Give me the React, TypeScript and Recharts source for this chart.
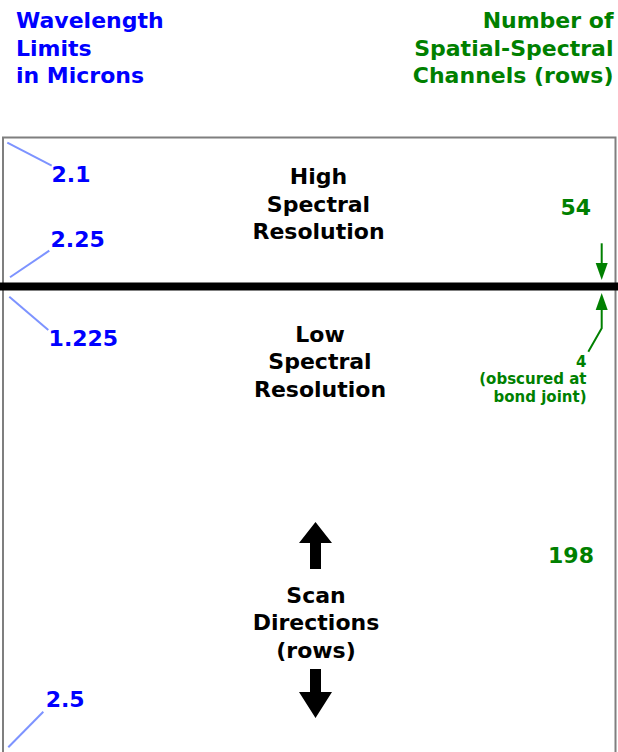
import React from "react";
import {
  ComposedChart,
  Line,
  ReferenceArea,
  ReferenceDot,
  ReferenceLine,
  XAxis,
  YAxis,
} from "recharts";

// detector layout: rows per band, joint between bands
const bandNames = [
  ["High", "Spectral", "Resolution"],
  ["Low", "Spectral", "Resolution"],
];
const bandRows = [54, 198];
const jointRows = 4;
const startMicrons = [2.1, 1.225];
const endMicrons = [2.25, 2.5];
const scanLabel = ["Scan", "Directions", "(rows)"];
const jointNote = ["(obscured at", "bond joint)"];
const leftTitle = ["Wavelength", "Limits", "in Microns"];
const rightTitle = ["Number of", "Spatial-Spectral", "Channels (rows)"];

const WIDTH = 618;
const HEIGHT = 760;
const BOX_TOP = 137.5;
const BOX_BOTTOM = 754;
const JOINT_Y = 286.5;

const FONT = '"DejaVu Sans", sans-serif';
const BLUE = "#0000ff";
const GREEN = "#008000";
const LEADER = "#7d93ff";
const BORDER = "#7f7f7f";

// the two bands are drawn at different row heights, so each gets its own axis
const plotH = BOX_BOTTOM - BOX_TOP;
const aboveJoint = (JOINT_Y - BOX_TOP) / plotH;
const highDomain = [0, (bandRows[0] + jointRows / 2) / aboveJoint];
const lowSpan = bandRows[1] + jointRows / 2;
const lowDomain = [
  -jointRows / 2 - (lowSpan * aboveJoint) / (1 - aboveJoint),
  bandRows[1],
];

// detector edges (left / right column)
const edges = [
  { col: 0, row: 0 },
  { col: 1, row: 0 },
];

type Axis = "high" | "low";

const textLines = (
  lines: string[],
  x: number,
  y: number,
  step: number,
  fill: string,
  size: number,
  anchor: "start" | "middle" | "end"
) =>
  lines.map((t, i) => (
    <text
      key={i}
      x={x}
      y={y + i * step}
      fill={fill}
      fontSize={size}
      fontWeight="bold"
      fontFamily={FONT}
      textAnchor={anchor}
    >
      {t}
    </text>
  ));

const mark = (
  key: string,
  axis: Axis,
  x: number,
  y: number,
  draw: (cx: number, cy: number) => React.ReactNode
) => (
  <ReferenceDot
    key={key}
    yAxisId={axis}
    x={x}
    y={y}
    r={0}
    ifOverflow="visible"
    shape={(p: any) => <g>{draw(p.cx, p.cy)}</g>}
  />
);

const leader = (
  key: string,
  axis: Axis,
  row: number,
  value: number,
  line: number[],
  text: number[]
) =>
  mark(key, axis, 0, row, (cx, cy) => (
    <g>
      <line
        x1={cx + line[0]}
        y1={cy + line[1]}
        x2={cx + line[2]}
        y2={cy + line[3]}
        stroke={LEADER}
        strokeWidth={2}
      />
      {textLines([String(value)], cx + text[0], cy + text[1], 0, BLUE, 22, "start")}
    </g>
  ));

const upArrow = (x: number, tip: number, base: number, end: number) => (
  <polygon
    points={`${x},${tip} ${x + 16.5},${base} ${x + 5.5},${base} ${x + 5.5},${end} ${x - 5.5},${end} ${x - 5.5},${base} ${x - 16.5},${base}`}
    fill="#000"
  />
);

export default function App() {
  return (
    <div
      style={{
        position: "absolute",
        left: 0,
        top: 0,
        width: WIDTH,
        height: 752,
        overflow: "hidden",
        background: "#fff",
      }}
    >
      <svg
        width={WIDTH}
        height={110}
        style={{ position: "absolute", left: 0, top: 0 }}
      >
        {textLines(leftTitle, 16, 28, 27.5, BLUE, 22, "start")}
        {textLines(rightTitle, 613.5, 28, 27.5, GREEN, 22, "end")}
      </svg>
      <div style={{ position: "absolute", left: 0, top: 0 }}>
        <ComposedChart
          width={WIDTH}
          height={HEIGHT}
          data={edges}
          margin={{ top: BOX_TOP, right: 2.5, bottom: HEIGHT - BOX_BOTTOM, left: 3 }}
        >
          <XAxis dataKey="col" type="number" domain={[0, 1]} hide allowDataOverflow />
          <YAxis
            yAxisId="high"
            type="number"
            domain={highDomain}
            reversed
            hide
            allowDataOverflow
          />
          <YAxis
            yAxisId="low"
            type="number"
            domain={lowDomain}
            reversed
            hide
            allowDataOverflow
          />

          {/* band outlines meet under the joint */}
          <ReferenceArea
            yAxisId="high"
            x1={0}
            x2={1}
            y1={0}
            y2={bandRows[0] + jointRows / 2}
            fill="#fff"
            fillOpacity={1}
            stroke={BORDER}
            strokeWidth={2}
          />
          <ReferenceArea
            yAxisId="low"
            x1={0}
            x2={1}
            y1={-jointRows / 2}
            y2={bandRows[1]}
            fill="#fff"
            fillOpacity={1}
            stroke={BORDER}
            strokeWidth={2}
          />
          <Line
            yAxisId="high"
            dataKey="row"
            stroke="none"
            dot={false}
            activeDot={false}
            isAnimationActive={false}
          />
          <ReferenceLine
            yAxisId="high"
            y={bandRows[0] + jointRows / 2}
            shape={(p: any) => (
              <line
                x1={p.x1 - 4}
                y1={p.y1}
                x2={p.x2 + 4}
                y2={p.y2}
                stroke="#000"
                strokeWidth={8}
              />
            )}
          />

          {leader("s0", "high", 0, startMicrons[0], [4.3, 5.2, 48.7, 28.2], [48.5, 44.2])}
          {leader("e0", "high", bandRows[0], endMicrons[0], [7, -3.9, 46.3, -30.5], [47.5, -33.9])}
          {leader("s1", "low", 0, startMicrons[1], [6.3, 5.5, 45.3, 38.8], [45.6, 54.8])}
          {leader("e1", "low", bandRows[1], endMicrons[1], [5.3, -6.7, 40.3, -42.3], [42.7, -47.3])}

          {mark("n0", "high", 0.5, bandRows[0] / 2, (cx, cy) =>
            textLines(bandNames[0], cx + 9.25, cy - 25, 27.5, "#000", 22, "middle")
          )}
          {mark("n1", "low", 0.5, 0, (cx, cy) =>
            textLines(bandNames[1], cx + 10.75, cy + 50.8, 27.5, "#000", 22, "middle")
          )}

          {mark("scan", "low", 0.5, bandRows[1] / 2, (cx, cy) => (
            <g>
              {upArrow(cx + 6.25, cy - 0.6, cy + 20.4, cy + 46.4)}
              {textLines(scanLabel, cx + 6.75, cy + 80.4, 27.5, "#000", 22, "middle")}
              {upArrow(cx + 6.25, cy + 195.4, cy + 169.4, cy + 146.4)}
            </g>
          ))}

          {mark("c0", "high", 1, bandRows[0] / 2, (cx, cy) =>
            textLines([String(bandRows[0])], cx - 39.8, cy + 5.7, 0, GREEN, 22, "middle")
          )}
          {mark("c1", "low", 1, bandRows[1] / 2, (cx, cy) =>
            textLines([String(bandRows[1])], cx - 44.5, cy + 40.7, 0, GREEN, 22, "middle")
          )}

          {mark("joint", "high", 1, bandRows[0] + jointRows / 2, (cx, cy) => {
            const ax = cx - 13.8;
            return (
              <g>
                <line x1={ax} y1={cy - 43.2} x2={ax} y2={cy - 20} stroke={GREEN} strokeWidth={2} />
                <polygon
                  points={`${ax - 6},${cy - 23.5} ${ax + 6},${cy - 23.5} ${ax},${cy - 6.5}`}
                  fill={GREEN}
                />
                <polygon
                  points={`${ax - 6},${cy + 23.5} ${ax + 6},${cy + 23.5} ${ax},${cy + 6.5}`}
                  fill={GREEN}
                />
                <polyline
                  points={`${ax},${cy + 20} ${ax},${cy + 41.8} ${cx - 27.2},${cy + 65.2}`}
                  fill="none"
                  stroke={GREEN}
                  strokeWidth={2}
                />
                {textLines(
                  [String(jointRows), ...jointNote],
                  cx - 29,
                  cy + 80.2,
                  17.5,
                  GREEN,
                  15,
                  "end"
                )}
              </g>
            );
          })}
        </ComposedChart>
      </div>
    </div>
  );
}
